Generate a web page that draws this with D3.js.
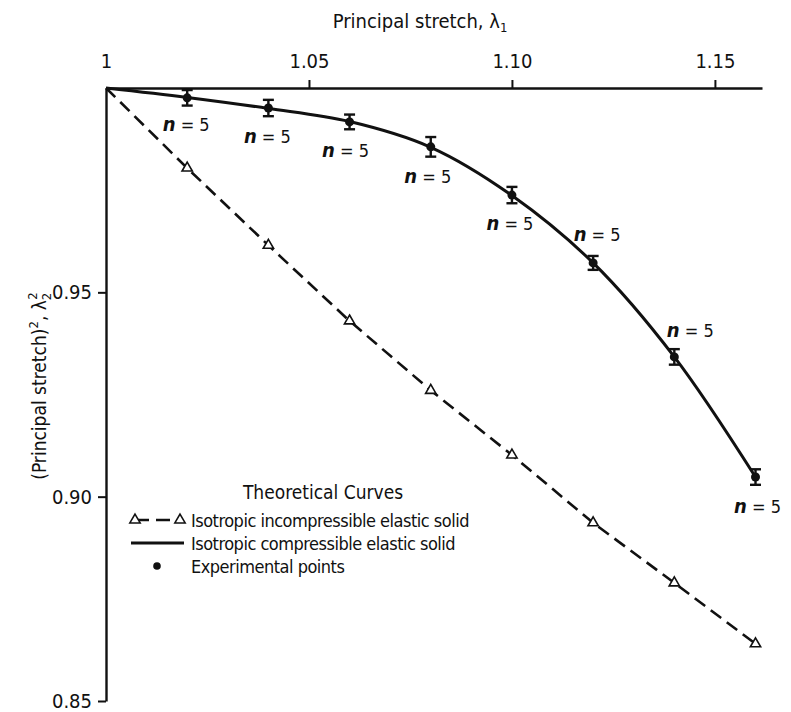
<!DOCTYPE html>
<html>
<head>
<meta charset="utf-8">
<script src="https://cdn.jsdelivr.net/npm/d3@7/dist/d3.min.js"></script>
<style>
  html, body { margin: 0; padding: 0; background: #fff; }
  svg text { font-family: "DejaVu Sans Condensed", "Liberation Sans Narrow", sans-serif; fill: #111; }
</style>
</head>
<body>
<svg id="chart" width="791" height="712"></svg>
<script>
// Principal stretch λ1 at which the specimens were measured
const stretch = [1.02, 1.04, 1.06, 1.08, 1.10, 1.12, 1.14, 1.16];
// Mean measured (principal stretch)^2, λ2^2, and half-width of the scatter bars
const measured = [0.9976, 0.9951, 0.9917, 0.9856, 0.9738, 0.9572, 0.9342, 0.9048];
const scatter = [0.0019, 0.0020, 0.0018, 0.0024, 0.0020, 0.0017, 0.0019, 0.0019];
const sampleSize = [5, 5, 5, 5, 5, 5, 5, 5];

// Theoretical curves
const curveStretch = [1.00, 1.02, 1.04, 1.06, 1.08, 1.10, 1.12, 1.14, 1.16];
const compressible = [1.0000, 0.9977, 0.9950, 0.9918, 0.9855, 0.9737, 0.9572, 0.9342, 0.9048];
const incompressible = [1.0000, 0.9804, 0.9615, 0.9430, 0.9260, 0.9102, 0.8936, 0.8789, 0.8640];

// Axis ticks
const xTicks = [1, 1.05, 1.10, 1.15];
const xTickLabels = ["1", "1.05", "1.10", "1.15"];
const yTicks = [0.85, 0.90, 0.95];
const yTickLabels = ["0.85", "0.90", "0.95"];

const legendItems = [
  "Isotropic incompressible elastic solid",
  "Isotropic compressible elastic solid",
  "Experimental points"
];

const svg = d3.select("#chart");

const x = d3.scaleLinear().domain([1, 1.1616]).range([106, 762]);
const y = d3.scaleLinear().domain([0.85, 1]).range([701, 88]);

// Top axis (λ1)
const xAxis = d3.axisTop(x)
  .tickValues(xTicks)
  .tickSize(8)
  .tickSizeOuter(0)
  .tickFormat((d, i) => xTickLabels[i]);
const gx = svg.append("g").attr("transform", `translate(0,${y(1)})`).call(xAxis);
gx.select(".domain").attr("stroke", "#111").attr("stroke-width", 2.4);
gx.selectAll(".tick line").attr("stroke", "#111").attr("stroke-width", 2)
  .attr("display", d => d === 1 ? "none" : null);
gx.selectAll(".tick text").attr("font-size", 20).attr("fill", "#111")
  .attr("font-family", null).attr("y", -20);

// Left axis (λ2^2)
const yAxis = d3.axisLeft(y)
  .tickValues(yTicks)
  .tickSize(8)
  .tickSizeOuter(0)
  .tickFormat((d, i) => yTickLabels[i]);
const gy = svg.append("g").attr("transform", `translate(${x(1)},0)`).call(yAxis);
gy.select(".domain").attr("stroke", "#111").attr("stroke-width", 2.4);
gy.selectAll(".tick line").attr("stroke", "#111").attr("stroke-width", 2);
gy.selectAll(".tick text").attr("font-size", 20).attr("fill", "#111")
  .attr("font-family", null).attr("x", -14);

// Axis titles
const xTitle = svg.append("text")
  .attr("x", 420).attr("y", 28)
  .attr("text-anchor", "middle")
  .attr("font-size", 20);
xTitle.append("tspan").text("Principal stretch, λ");
xTitle.append("tspan").attr("font-size", 13).attr("dy", 4).text("1");

const yTitle = svg.append("text")
  .attr("transform", "translate(46,386) rotate(-90)")
  .attr("text-anchor", "middle")
  .attr("font-size", 19);
yTitle.append("tspan").text("(Principal stretch)");
yTitle.append("tspan").attr("font-size", 13).attr("dy", -8).text("2");
yTitle.append("tspan").attr("dy", 8).text(", λ");
yTitle.append("tspan").attr("font-size", 13).attr("dy", 5).text("2");
yTitle.append("tspan").attr("font-size", 13).attr("dx", -7).attr("dy", -14).text("2");

// Incompressible theory: dashed line with open triangles
const incData = curveStretch.map((s, i) => [s, incompressible[i]]);
svg.append("path")
  .datum(incData)
  .attr("fill", "none")
  .attr("stroke", "#111")
  .attr("stroke-width", 2.6)
  .attr("stroke-dasharray", "13,7")
  .attr("d", d3.line().x(d => x(d[0])).y(d => y(d[1])));

const tri = d3.symbol().type(d3.symbolTriangle).size(46);
svg.append("g").selectAll("path")
  .data(incData.slice(1))
  .join("path")
  .attr("transform", d => `translate(${x(d[0])},${y(d[1])})`)
  .attr("d", tri)
  .attr("fill", "#fff")
  .attr("stroke", "#111")
  .attr("stroke-width", 1.6);

// Compressible theory: solid curve
const compData = curveStretch.map((s, i) => [s, compressible[i]]);
svg.append("path")
  .datum(compData)
  .attr("fill", "none")
  .attr("stroke", "#111")
  .attr("stroke-width", 3)
  .attr("d", d3.line().curve(d3.curveCatmullRom.alpha(0.5)).x(d => x(d[0])).y(d => y(d[1])));

// Experimental points with scatter bars
const pts = stretch.map((s, i) => ({ s, v: measured[i], e: scatter[i], n: sampleSize[i] }));
const bars = svg.append("g").attr("stroke", "#111").attr("stroke-width", 2.4);
pts.forEach(p => {
  const cx = x(p.s), top = y(p.v + p.e), bot = y(p.v - p.e);
  bars.append("line").attr("x1", cx).attr("x2", cx).attr("y1", top).attr("y2", bot);
  bars.append("line").attr("x1", cx - 5.5).attr("x2", cx + 5.5).attr("y1", top).attr("y2", top);
  bars.append("line").attr("x1", cx - 5.5).attr("x2", cx + 5.5).attr("y1", bot).attr("y2", bot);
});
svg.append("g").selectAll("circle")
  .data(pts)
  .join("circle")
  .attr("cx", d => x(d.s))
  .attr("cy", d => y(d.v))
  .attr("r", 4.5)
  .attr("fill", "#111");

// Sample-size annotations, placed beside each point
const labelOffsets = [[-1, 33], [-1, 35], [-4, 35], [-3, 36], [-2, 35], [4, -22], [16, -20], [2, 36]];
const nLabels = svg.append("g");
pts.forEach((p, i) => {
  const t = nLabels.append("text")
    .attr("x", x(p.s) + labelOffsets[i][0])
    .attr("y", y(p.v) + labelOffsets[i][1])
    .attr("text-anchor", "middle")
    .attr("font-size", 20);
  t.append("tspan").attr("font-style", "italic").attr("font-weight", "bold").text("n");
  t.append("tspan").attr("font-size", 18).text(" = " + p.n);
});

// Legend
const legend = svg.append("g");
legend.append("text")
  .attr("x", 323).attr("y", 499)
  .attr("text-anchor", "middle")
  .attr("font-size", 19)
  .text("Theoretical Curves");

const rowY = [520, 543, 566];
legend.selectAll("text.item")
  .data(legendItems)
  .join("text")
  .attr("class", "item")
  .attr("x", 191)
  .attr("y", (d, i) => rowY[i] + 7)
  .attr("font-size", 18)
  .attr("letter-spacing", -0.5)
  .text(d => d);

// row 1: dashed segment with triangles
legend.append("line")
  .attr("x1", 135).attr("x2", 180).attr("y1", rowY[0]).attr("y2", rowY[0])
  .attr("stroke", "#111").attr("stroke-width", 2.6).attr("stroke-dasharray", "14,7");
[135, 180].forEach(px => {
  legend.append("path")
    .attr("transform", `translate(${px},${rowY[0]})`)
    .attr("d", tri)
    .attr("fill", "#fff").attr("stroke", "#111").attr("stroke-width", 1.6);
});
// row 2: solid segment
legend.append("line")
  .attr("x1", 131).attr("x2", 184).attr("y1", rowY[1]).attr("y2", rowY[1])
  .attr("stroke", "#111").attr("stroke-width", 3);
// row 3: point
legend.append("circle")
  .attr("cx", 157).attr("cy", rowY[2]).attr("r", 3.8).attr("fill", "#111");
</script>
</body>
</html>
